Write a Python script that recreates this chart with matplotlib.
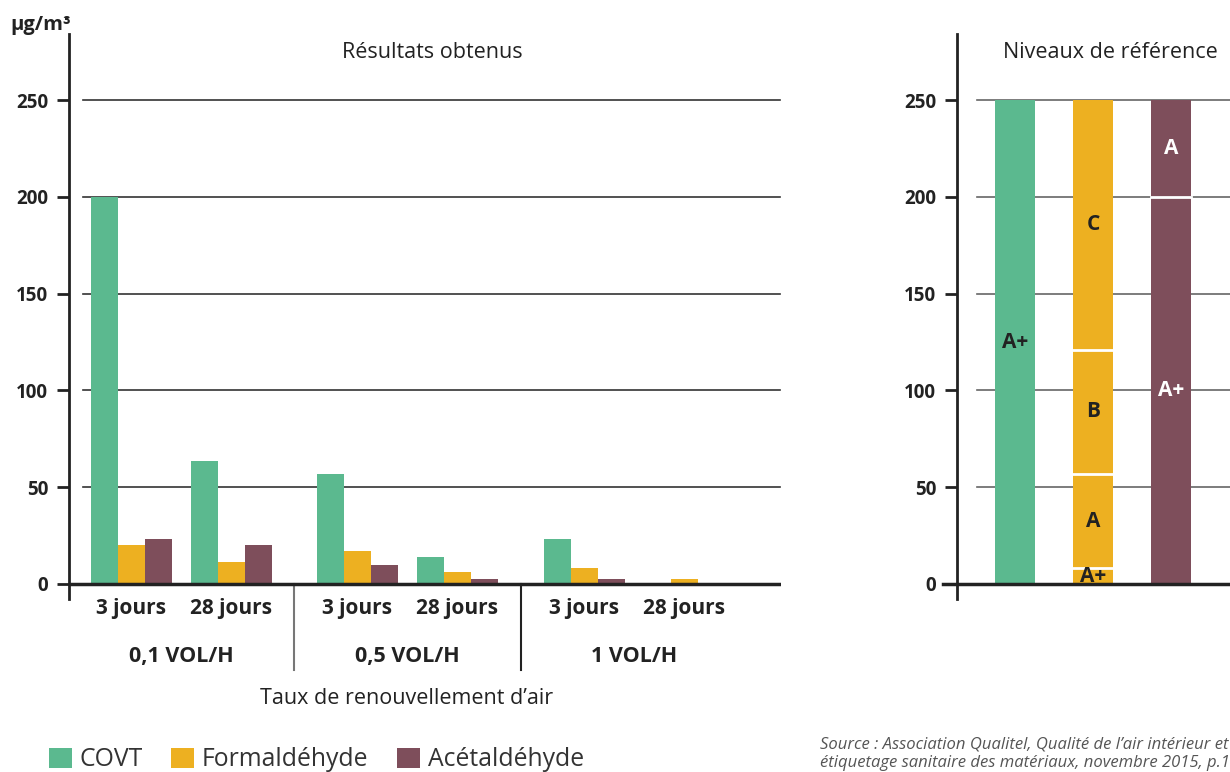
import matplotlib
matplotlib.use("Agg")
import matplotlib.pyplot as plt
from matplotlib.patches import Patch

plt.rcParams['font.family'] = ['Open Sans', 'DejaVu Sans']

# data
rates = ["0,1 VOL/H", "0,5 VOL/H", "1 VOL/H"]
durations = ["3 jours", "28 jours"]
covt = [200, 63.5, 57, 14, 23, 0]
formaldehyde = [20, 11.5, 17, 6, 8.5, 2.5]
acetaldehyde = [23, 20, 10, 2.5, 2.5, 0]
series_names = ["COVT", "Formaldéhyde", "Acétaldéhyde"]

# reference levels (upper limit of each class)
ref_limits = [[250], [8, 57, 121, 250], [200, 250]]
ref_classes = [["A+"], ["A+", "A", "B", "C"], ["A+", "A"]]

colors = ["#5BB98F", "#EDB021", "#7E4E5B"]
label_colors = ["#222222", "#222222", "white"]
dark = "#222222"

fig = plt.figure(figsize=(12.3, 7.72), dpi=100)

# ---------- left chart : measured results ----------
ax = fig.add_axes([69/1230, 1-598.5/772, 712/1230, 564.3/772])
ax.set_xlim(-0.62, 6.5)
ax.set_ylim(-7.5, 284)

rate_step = 2.265
w = 0.27
pos = []
for r in range(len(rates)):
    for t in range(len(durations)):
        pos.append(r*rate_step + t)

for v in [50, 100, 150, 200, 250]:
    ax.plot([-0.48, 6.49], [v, v], color="#333333", lw=1.2, zorder=1)

for k, vals in enumerate([covt, formaldehyde, acetaldehyde]):
    ax.bar([p + (k-1)*w for p in pos], vals, width=w, color=colors[k], zorder=2)

ax.axhline(0, color=dark, lw=2.5, zorder=3)

for s in ["top", "right", "bottom"]:
    ax.spines[s].set_visible(False)
ax.spines["left"].set_linewidth(2)
ax.spines["left"].set_color(dark)
ax.set_xticks([])
ax.set_yticks([0, 50, 100, 150, 200, 250])
ax.tick_params(axis="y", length=8.5, width=2, color=dark, pad=6.5,
               labelsize=13.5, labelcolor=dark)
for lab in ax.get_yticklabels():
    lab.set_fontweight("bold")

for i, p in enumerate(pos):
    ax.text(p, -12.9, durations[i % 2], ha="center", va="center", fontsize=15,
            fontweight="bold", color=dark)
for r in range(len(rates)):
    ax.text(r*rate_step + 0.5, -37.7, rates[r], ha="center", va="center",
            fontsize=15.5, fontweight="bold", color=dark)
    if r < len(rates) - 1:
        xs = r*rate_step + 1 + (rate_step - 1)/2
        ax.plot([xs, xs], [0, -44.4], color="#777777" if r == 0 else dark,
                lw=1.5, clip_on=False)

ax.text(2.76, -59.4, "Taux de renouvellement d\u2019air", ha="center", va="center",
        fontsize=15.5, color=dark)
ax.text(3.01, 274.8, "Résultats obtenus", ha="center", va="center",
        fontsize=15.5, color=dark)

fig.text(10/1230, 1-25/772, "µg/m³", ha="left", va="center", fontsize=14.5,
         fontweight="bold", color=dark)

# ---------- right chart : reference levels ----------
ax2 = fig.add_axes([957/1230, 1-598.5/772, 306/1230, 564.3/772])
ax2.set_xlim(-0.744, 3.18)
ax2.set_ylim(-7.5, 284)

for v in [50, 100, 150, 200, 250]:
    ax2.plot([-0.487, 3.18], [v, v], color="#666666", lw=1.2, zorder=1)

bw = 0.513
for k in range(3):
    bottom = 0
    for lim, cls in zip(ref_limits[k], ref_classes[k]):
        ax2.bar(k, lim - bottom, bottom=bottom, width=bw, color=colors[k], zorder=2)
        ax2.text(k, (bottom + lim)/2, cls, ha="center", va="center", fontsize=15,
                 fontweight="bold", color=label_colors[k], zorder=4)
        if bottom > 0:
            ax2.plot([k - bw/2, k + bw/2], [bottom, bottom], color="white",
                     lw=2, zorder=3)
        bottom = lim

ax2.plot([-0.92, 3.18], [0, 0], color=dark, lw=2.5, zorder=3, clip_on=False)
for s in ["top", "right", "bottom"]:
    ax2.spines[s].set_visible(False)
ax2.spines["left"].set_linewidth(2)
ax2.spines["left"].set_color(dark)
ax2.set_xticks([])
ax2.set_yticks([0, 50, 100, 150, 200, 250])
ax2.tick_params(axis="y", length=8.5, width=2, color=dark, pad=6.5,
                labelsize=13.5, labelcolor=dark)
for lab in ax2.get_yticklabels():
    lab.set_fontweight("bold")
ax2.text(0.5, 274.8, "Niveaux de référence", ha="center", va="center",
         fontsize=15.5, color=dark, transform=ax2.get_yaxis_transform())

# ---------- legend & source ----------
handles = [Patch(facecolor=c, edgecolor="none") for c in colors]
fig.legend(handles, series_names, loc="center left",
           bbox_to_anchor=(49/1230, 1-760/772), ncol=3, frameon=False,
           fontsize=17.8, handlelength=0.92, handleheight=0.92,
           handletextpad=0.32, columnspacing=1.15, borderpad=0,
           borderaxespad=0, labelcolor="#333333")

fig.text(820/1230, 1-754/772,
         "Source : Association Qualitel, Qualité de l\u2019air intérieur et\n"
         "étiquetage sanitaire des matériaux, novembre 2015, p.10.",
         ha="left", va="center", fontsize=12, style="italic", color="#555555",
         linespacing=1.2)

fig.savefig("out.png", dpi=100)
